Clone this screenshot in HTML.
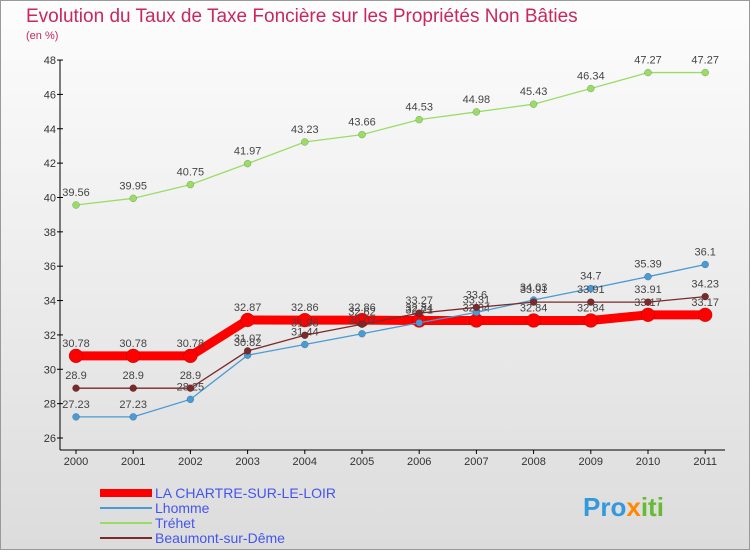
<!DOCTYPE html>
<html><head><meta charset="utf-8"><style>
body{margin:0;width:750px;height:550px;overflow:hidden;font-family:"Liberation Sans",sans-serif}
svg text{font-family:"Liberation Sans",sans-serif}
</style></head><body>
<svg id="c" width="750" height="550" xmlns="http://www.w3.org/2000/svg">
<defs><linearGradient id="bg" x1="0" y1="0" x2="0" y2="1"><stop offset="0" stop-color="#fdfdfd"/><stop offset="1" stop-color="#dcdcdc"/></linearGradient></defs>
<rect x="0.5" y="0.5" width="749" height="549" fill="url(#bg)" stroke="#999"/>
<text x="26" y="22" font-size="19" fill="#c8285a">Evolution du Taux de Taxe Foncière sur les Propriétés Non Bâties</text>
<text x="26" y="39" font-size="11" fill="#c8285a">(en %)</text>
<g id="axes"></g><g id="series"></g><g id="legend"></g>
<text x="583" y="516" font-size="26" font-weight="bold" fill="#3399dd">Pro<tspan fill="#ff8800">x</tspan><tspan fill="#66bb33">iti</tspan></text>
</svg>
<script>
const years=[2000,2001,2002,2003,2004,2005,2006,2007,2008,2009,2010,2011];
const chartre=[30.78,30.78,30.78,32.87,32.86,32.86,32.84,32.84,32.84,32.84,33.17,33.17];
const lhomme=[27.23,27.23,28.25,30.82,31.44,32.07,32.71,33.31,34.03,34.7,35.39,36.1];
const trehet=[39.56,39.95,40.75,41.97,43.23,43.66,44.53,44.98,45.43,46.34,47.27,47.27];
const beaumont=[28.9,28.9,28.9,31.07,31.98,32.62,33.27,33.6,33.91,33.91,33.91,34.23];
const yTicks=[26,28,30,32,34,36,38,40,42,44,46,48];
const NS="http://www.w3.org/2000/svg";
const X=i=>76+i*57.2, Y=v=>438-(v-26)*17.18;
function mk(tag,attrs,parent,txt){const e=document.createElementNS(NS,tag);for(const k in attrs)e.setAttribute(k,attrs[k]);if(txt!==undefined)e.textContent=txt;parent.appendChild(e);return e;}
const ax=document.getElementById('axes');
let l=mk('line',{x1:60,y1:60,x2:60,y2:450,stroke:'#000'},ax);


l=mk('line',{x1:60,y1:450,x2:725,y2:450,stroke:'#000'},ax);


yTicks.forEach(v=>{const t=mk('text',{x:56,y:Y(v)+4,'font-size':11,fill:'#333','text-anchor':'end'},ax,v);


mk('line',{x1:57,y1:Y(v),x2:63,y2:Y(v),stroke:'#000'},ax);});
years.forEach((y,i)=>{const t=mk('text',{x:X(i),y:465,'font-size':11,fill:'#333','text-anchor':'middle'},ax,y);


mk('line',{x1:X(i),y1:450,x2:X(i),y2:454,stroke:'#000'},ax);});
const sg=document.getElementById('series');
function series(data,color,w,r,name){const g=mk('g',{},sg);


mk('polyline',{points:data.map((v,i)=>X(i)+','+Y(v)).join(' '),fill:'none',stroke:color,'stroke-width':w},g);
data.forEach((v,i)=>{const c=mk('circle',{cx:X(i),cy:Y(v),r:r,fill:color,stroke:'rgba(0,0,0,0.3)','stroke-width':0.5},g);


const t=mk('text',{x:X(i),y:Y(v)-9,'font-size':11,fill:'#444','text-anchor':'middle'},g,v);

});}
series(chartre,'#ff0000',9,7,'series-la-chartre');
series(lhomme,'#4a9ad4',1.3,3.5,'series-lhomme');
series(trehet,'#99dd66',1.3,3.5,'series-trehet');
series(beaumont,'#7a2a2a',1.3,3.5,'series-beaumont');
const lg=document.getElementById('legend');
[['LA CHARTRE-SUR-LE-LOIR','#ff0000',8],['Lhomme','#4a9ad4',2],['Tréhet','#99dd66',2],['Beaumont-sur-Dême','#7a2a2a',2]].forEach((e,i)=>{
const y=493+i*15;const g=mk('g',{},lg);


mk('line',{x1:100,y1:y,x2:152,y2:y,stroke:e[1],'stroke-width':e[2]},g);
mk('text',{x:155,y:y+5,'font-size':14,fill:'#4455ee'},g,e[0]);});
</script>
</body></html>
